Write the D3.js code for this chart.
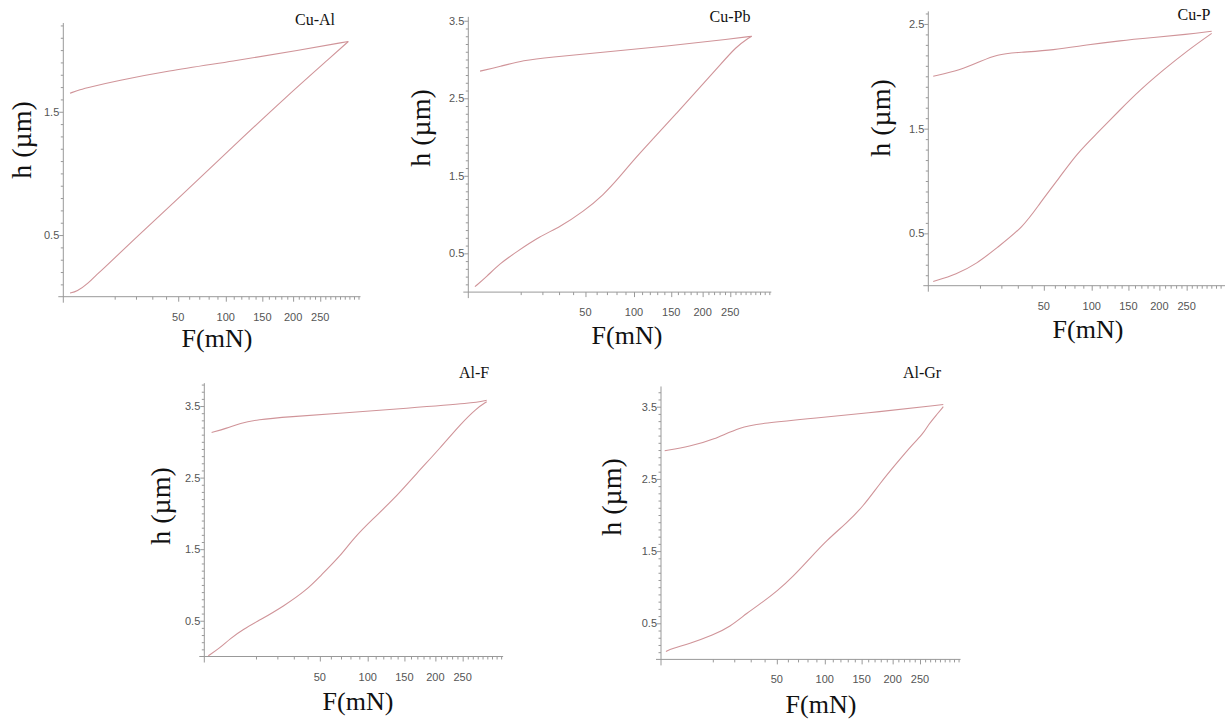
<!DOCTYPE html>
<html>
<head>
<meta charset="utf-8">
<script src="https://cdn.jsdelivr.net/npm/d3@7"></script>
<style>
  body { margin: 0; background: #fff; }
  svg { display: block; }
</style>
</head>
<body>
<script>
// [F (mN), h (um)]
var cuAlLoading = [[0.17,0.03],[0.68,0.04],[2.4,0.11],[4.2,0.18],[5.1,0.2],[18.6,0.46],[51.6,0.81],[109.4,1.22],[183.3,1.6],[276,1.96],[307.6,2.07]];
var cuAlUnloading = [[0.17,1.65],[1.06,1.68],[2.7,1.7],[10.8,1.75],[40.5,1.83],[109.4,1.91],[212.2,2.0],[307.6,2.07]];

var cuPbLoading = [[0.16,0.07],[1.23,0.2],[3.66,0.37],[8.5,0.52],[18.7,0.72],[30.6,0.84],[48.2,1.04],[66.4,1.25],[83.8,1.49],[99.2,1.7],[124.7,1.98],[158.2,2.31],[195.5,2.64],[230.7,2.93],[262.4,3.17],[282.3,3.26],[292.5,3.3]];
var cuPbUnloading = [[0.5,2.85],[3.66,2.91],[11,2.99],[24.3,3.03],[63.2,3.09],[143.4,3.17],[255.8,3.27],[292.5,3.3]];

var cuPLoading = [[0.09,0.04],[3,0.11],[8.8,0.21],[17.5,0.36],[33.8,0.56],[46.7,0.79],[65,1.04],[82.5,1.26],[106,1.45],[137.6,1.68],[168,1.87],[206.8,2.06],[250,2.24],[300.8,2.41]];
var cuPUnloading = [[0.09,2.0],[3.8,2.06],[10,2.14],[17.5,2.21],[31.5,2.23],[58.5,2.25],[94,2.3],[137.6,2.34],[189.6,2.37],[250,2.4],[300.8,2.43]];

var alFLoading = [[0.06,0.01],[0.92,0.12],[2.5,0.25],[5.7,0.38],[11.6,0.51],[23.4,0.7],[39.3,0.93],[50.1,1.12],[69,1.4],[83.2,1.65],[107,1.93],[133.8,2.19],[169,2.56],[208,2.91],[244.9,3.24],[277.9,3.47],[298.7,3.56]];
var alFUnloading = [[0.2,3.13],[1.9,3.19],[4.8,3.26],[10.3,3.31],[27.5,3.35],[69,3.4],[153.4,3.47],[271,3.54],[298.7,3.58]];

var alGrLoading = [[0.09,0.11],[0.43,0.15],[3.1,0.22],[10.2,0.34],[17.7,0.45],[27.4,0.64],[39,0.8],[49.9,0.94],[65.2,1.15],[82.7,1.4],[102.3,1.65],[128.5,1.89],[152.5,2.12],[178.8,2.44],[207,2.72],[237.2,2.99],[256.4,3.13],[266.3,3.25],[283.3,3.39],[297,3.5]];
var alGrUnloading = [[0.05,2.89],[3.1,2.95],[10.2,3.04],[23.3,3.22],[39,3.27],[86.5,3.34],[178.8,3.43],[297,3.53]];

var panelNames = ["Cu-Al", "Cu-Pb", "Cu-P", "Al-F", "Al-Gr"];
var yTickLabels = [0.5, 1.5, 2.5, 3.5];
var xTickLabels = [50, 100, 150, 200, 250];
var xMax = 330;

// layout of each panel (pixel placement only)
var panels = [
  {name: panelNames[0], load: cuAlLoading, unload: cuAlUnloading, x0: 63.3, k: 16.25, y0: 296.7, unit: 123.3, yTop: 2.22,
   title: [315, 25], xlab: [217, 347], ylab: [22, 140]},
  {name: panelNames[1], load: cuPbLoading, unload: cuPbUnloading, x0: 468.3, k: 16.57, y0: 292.1, unit: 77.53, yTop: 3.55,
   title: [730, 22], xlab: [627, 344], ylab: [421, 128]},
  {name: panelNames[2], load: cuPLoading, unload: cuPUnloading, x0: 928.3, k: 16.34, y0: 285.7, unit: 104.7, yTop: 2.62,
   title: [1194, 20], xlab: [1088, 338], ylab: [881, 118]},
  {name: panelNames[3], load: alFLoading, unload: alFUnloading, x0: 204.3, k: 16.34, y0: 656.5, unit: 71.56, yTop: 3.82,
   title: [474, 378], xlab: [358, 710], ylab: [161, 506]},
  {name: panelNames[4], load: alGrLoading, unload: alGrUnloading, x0: 661, k: 16.38, y0: 659.4, unit: 72.2, yTop: 3.78,
   title: [922, 378], xlab: [821, 713], ylab: [612, 497]}
];

var svg = d3.select("body").append("svg")
  .attr("width", 1225)
  .attr("height", 724);

var lineColor = "#d09499";
var axisColor = "#999";

panels.forEach(function(p) {
  var xScale = d3.scaleSqrt().domain([0, xMax]).range([p.x0, p.x0 + p.k * Math.sqrt(xMax)]);
  var yScale = d3.scaleLinear().domain([0, p.yTop]).range([p.y0, p.y0 - p.unit * p.yTop]);

  var g = svg.append("g");

  // x axis: minor every 10, labelled every 50
  var xTicks = d3.range(10, xMax + 1, 10);
  var xAxis = d3.axisBottom(xScale)
    .tickValues(xTicks)
    .tickSize(3)
    .tickFormat("");
  var gx = g.append("g").attr("transform", "translate(0," + p.y0 + ")").call(xAxis);
  gx.select(".domain").remove();
  gx.selectAll(".tick line").attr("stroke", axisColor)
    .attr("y2", function(d){ return d % 50 == 0 && d <= 250 ? 5 : 3; });
  g.append("line")
    .attr("x1", p.x0 - 5).attr("x2", xScale(xMax) + 2)
    .attr("y1", p.y0).attr("y2", p.y0)
    .attr("stroke", axisColor);
  g.selectAll(".xlab").data(xTickLabels).enter().append("text")
    .attr("x", function(d){ return xScale(d); })
    .attr("y", p.y0 + 24)
    .attr("text-anchor", "middle")
    .attr("font-family", "Liberation Sans, Arial, sans-serif")
    .attr("font-size", 11)
    .attr("fill", "#555")
    .text(function(d){ return d; });

  // y axis: minor every 0.1
  var yTicks = d3.range(1, Math.floor(p.yTop * 10) + 1).map(function(i){ return i / 10; });
  var yAxis = d3.axisLeft(yScale).tickValues(yTicks).tickSize(3).tickFormat("");
  var gy = g.append("g").attr("transform", "translate(" + p.x0 + ",0)").call(yAxis);
  gy.select(".domain").remove();
  gy.selectAll(".tick line").attr("stroke", axisColor)
    .attr("x2", function(d){ return yTickLabels.indexOf(Math.round(d * 10) / 10) >= 0 ? -4 : -2.5; });
  g.append("line")
    .attr("x1", p.x0).attr("x2", p.x0)
    .attr("y1", p.y0 + 6).attr("y2", yScale(p.yTop))
    .attr("stroke", axisColor);
  g.selectAll(".ylab").data(yTickLabels.filter(function(v){ return v <= p.yTop; })).enter().append("text")
    .attr("x", p.x0 - 4)
    .attr("y", function(d){ return yScale(d) + 4; })
    .attr("text-anchor", "end")
    .attr("font-family", "Liberation Sans, Arial, sans-serif")
    .attr("font-size", 11)
    .attr("fill", "#555")
    .text(function(d){ return d; });

  // curves
  var line = d3.line()
    .x(function(d){ return xScale(d[0]); })
    .y(function(d){ return yScale(d[1]); })
    .curve(d3.curveBasis);
  [p.load, p.unload].forEach(function(series) {
    g.append("path")
      .datum(series)
      .attr("d", line)
      .attr("fill", "none")
      .attr("stroke", lineColor)
      .attr("stroke-width", 1.1);
  });

  // texts
  g.append("text")
    .attr("x", p.title[0]).attr("y", p.title[1])
    .attr("text-anchor", "middle")
    .attr("font-family", "Liberation Serif, Times New Roman, serif")
    .attr("font-size", 16)
    .attr("fill", "#111")
    .text(p.name);
  g.append("text")
    .attr("x", p.xlab[0]).attr("y", p.xlab[1])
    .attr("text-anchor", "middle")
    .attr("font-family", "Liberation Serif, Times New Roman, serif")
    .attr("font-size", 26)
    .attr("fill", "#111")
    .text("F(mN)");
  g.append("text")
    .attr("transform", "translate(" + (p.ylab[0] + 9) + "," + p.ylab[1] + ") rotate(-90)")
    .attr("text-anchor", "middle")
    .attr("font-family", "Liberation Serif, Times New Roman, serif")
    .attr("font-size", 28)
    .attr("fill", "#111")
    .text("h (\u00b5m)");
});
</script>
</body>
</html>
